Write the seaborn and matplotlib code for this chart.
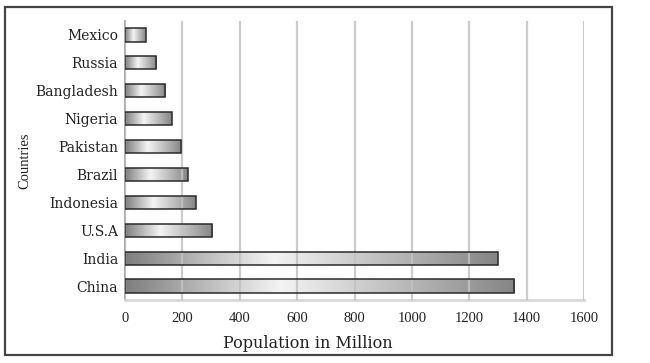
import numpy as np
import matplotlib
matplotlib.use("Agg")
import matplotlib.pyplot as plt
from matplotlib.patches import Rectangle
from matplotlib.colors import LinearSegmentedColormap
import seaborn as sns
import pandas as pd

countries = ["Mexico", "Russia", "Bangladesh", "Nigeria", "Pakistan",
             "Brazil", "Indonesia", "U.S.A", "India", "China"]
population = [72, 109, 141, 163, 196, 219, 246, 304, 1299, 1356]
x_ticks = [0, 200, 400, 600, 800, 1000, 1200, 1400, 1600]

df = pd.DataFrame({"Country": countries, "Population": population})

sns.set_theme(style="white")
plt.rcParams["font.family"] = ["DejaVu Serif"]

fig = plt.figure(figsize=(6.5, 3.63), dpi=100)
ax = fig.add_axes([125/650, 1-300/363, (584-125)/650, (300-21)/363])

sns.barplot(data=df, x="Population", y="Country", orient="h", ax=ax,
            color="white", edgecolor="#2a2a2a", linewidth=1.1, width=0.47,
            saturation=1)

cmap = LinearSegmentedColormap.from_list(
    "bar", [(0.0, "#7e7e7e"), (0.4, "#f4f4f4"), (1.0, "#858585")])
grad = np.linspace(0, 1, 256).reshape(1, -1)
for p in ax.patches:
    p.set_facecolor("none")
    p.set_zorder(3)
    x0, y0 = p.get_x(), p.get_y()
    w, h = p.get_width(), p.get_height()
    im = ax.imshow(grad, cmap=cmap, aspect="auto",
                   extent=(x0, x0 + w, y0 + h, y0), zorder=2,
                   interpolation="bilinear")
    im.set_clip_path(p)

ax.set_xlim(0, 1600)
ax.set_ylim(9.5, -0.5)
ax.set_aspect("auto")
ax.set_xticks(x_ticks)
ax.set_xticklabels([str(t) for t in x_ticks], family=["Liberation Serif"],
                   fontsize=10.5, color="#222222")
ax.set_yticks(range(len(countries)))
ax.set_yticklabels(countries, fontsize=10, color="#222222")

ax.set_axisbelow(False)
ax.xaxis.grid(True, color="#c2c2c2", linewidth=1.6, alpha=0.85)
ax.yaxis.grid(False)
for s in ["top", "right"]:
    ax.spines[s].set_visible(False)
ax.spines["left"].set_color("#999999")
ax.spines["left"].set_linewidth(1.2)
ax.spines["bottom"].set_color("#d8d8d8")
ax.spines["bottom"].set_linewidth(2.0)
ax.tick_params(axis="x", length=3, color="#bbbbbb", pad=6)
ax.tick_params(axis="y", length=0, pad=5)

ax.set_xlabel("Population in Million", fontsize=11.5, color="#222222")
ax.xaxis.set_label_coords(0.399, -0.125)
ax.set_ylabel("Countries", family=["Liberation Serif"], fontsize=10.5,
              color="#222222")
ax.yaxis.set_label_coords(-0.203, 0.5)

fig.patches.append(Rectangle((5/650, 1-355/363), (612-5)/650, (355-7)/363,
                             transform=fig.transFigure, fill=False,
                             edgecolor="#444444", linewidth=1.6))

fig.savefig("out.png", dpi=100)
